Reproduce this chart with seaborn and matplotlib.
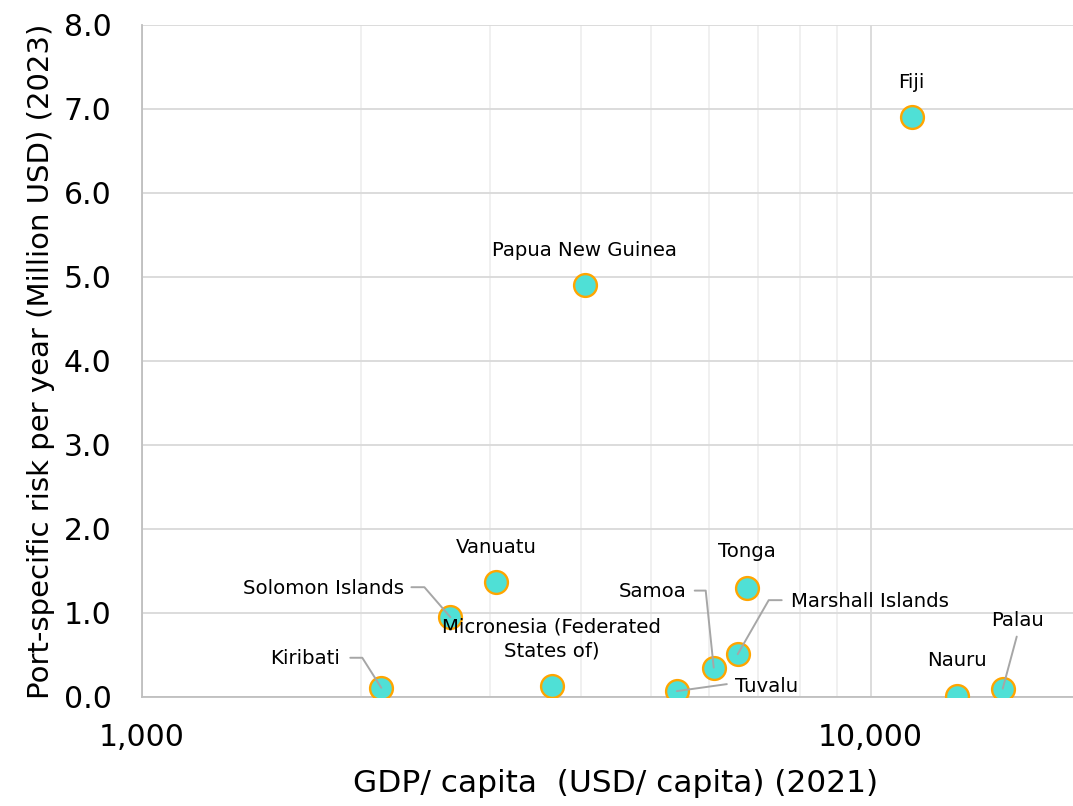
import matplotlib
matplotlib.use("Agg")
import matplotlib.pyplot as plt
from matplotlib.lines import Line2D
from matplotlib.ticker import FixedLocator, FuncFormatter, NullFormatter
import pandas as pd
import seaborn as sns

# Data
countries = ["Fiji", "Papua New Guinea", "Vanuatu", "Solomon Islands", "Kiribati",
             "Micronesia (Federated\nStates of)", "Tuvalu", "Samoa", "Marshall Islands",
             "Tonga", "Nauru", "Palau"]
gdp_per_capita = [11380, 4050, 3060, 2650, 2130, 3650, 5420, 6090, 6570, 6760, 13120, 15180]
port_risk = [6.90, 4.90, 1.37, 0.95, 0.11, 0.13, 0.07, 0.35, 0.51, 1.30, 0.01, 0.10]

df = pd.DataFrame({"country": countries, "gdp": gdp_per_capita, "risk": port_risk})

sns.set_style("white")
plt.rcParams["font.family"] = ["DejaVu Sans"]
plt.rcParams["text.color"] = "black"
plt.rcParams["axes.labelcolor"] = "black"

fig = plt.figure(figsize=(10.73, 8.06), dpi=100)
ax = fig.add_axes([142 / 1073, 109 / 806, (1090 - 142) / 1073, 672 / 806])

ax.set_xscale("log")
ax.set_xlim(1000, 20000)
ax.set_ylim(0, 8)

sns.scatterplot(data=df, x="gdp", y="risk", ax=ax, s=270, color="#4FE0D6",
                edgecolor="#FFA500", linewidth=1.7, zorder=5, legend=False)

# grid
ax.xaxis.set_major_locator(FixedLocator([1000, 10000]))
ax.xaxis.set_minor_locator(FixedLocator([2000, 3000, 4000, 5000, 6000, 7000, 8000, 9000]))
ax.xaxis.set_major_formatter(FuncFormatter(lambda v, p: f"{v:,.0f}"))
ax.xaxis.set_minor_formatter(NullFormatter())
ax.set_yticks([0, 1, 2, 3, 4, 5, 6, 7, 8])
ax.yaxis.set_major_formatter(FuncFormatter(lambda v, p: f"{v:.1f}"))
ax.grid(True, which="major", color="#D9D9D9", linewidth=1.3)
ax.grid(True, which="minor", axis="x", color="#EFEFEF", linewidth=1.3)
ax.set_axisbelow(True)

for s in ["top", "right"]:
    ax.spines[s].set_visible(False)
for s in ["left", "bottom"]:
    ax.spines[s].set_color("#BFBFBF")
    ax.spines[s].set_linewidth(1.3)

ax.tick_params(axis="both", which="both", length=0, labelsize=21.5, colors="black")
ax.tick_params(axis="y", pad=22)
ax.tick_params(axis="x", pad=19)

ax.set_xlabel("GDP/ capita  (USD/ capita) (2021)", fontsize=22.5, labelpad=12)
ax.set_ylabel("Port-specific risk per year (Million USD) (2023)", fontsize=21, labelpad=6)

# label placement: (dx, dy) pixel offsets, alignment, leader path in pixel offsets
labels = {
    "Fiji": ((0, 35), "center", None),
    "Papua New Guinea": ((0, 35), "center", None),
    "Vanuatu": ((0, 34), "center", None),
    "Tonga": ((0, 36), "center", None),
    "Nauru": ((0, 36), "center", None),
    "Micronesia (Federated\nStates of)": ((0, 47), "center", None),
    "Solomon Islands": ((-46, 29), "right", [(-39, 30), (-26, 30), (0, 0)]),
    "Kiribati": ((-41, 29), "right", [(-31, 30), (-19, 30), (0, 0)]),
    "Samoa": ((-27, 76), "right", [(-19, 77), (-8, 77), (0, 0)]),
    "Marshall Islands": ((53, 53), "left", [(44, 54), (31, 54), (0, 0)]),
    "Tuvalu": ((58, 5), "left", [(50, 7), (0, 0)]),
    "Palau": ((15, 68), "center", [(14, 52), (0, 0)]),
}

for name, x, y in zip(countries, gdp_per_capita, port_risk):
    (dx, dy), ha, path = labels[name]
    ax.annotate(name, (x, y), xytext=(dx, dy), textcoords="offset pixels",
                ha=ha, va="center", fontsize=14.2, linespacing=1.3, zorder=6,
                color="black")
    if path:
        px, py = ax.transData.transform((x, y))
        xs = [px + a for a, b in path]
        ys = [py + b for a, b in path]
        fig.add_artist(Line2D(xs, ys, transform=None, color="#A6A6A6",
                              linewidth=1.4, zorder=6))

fig.savefig("out.png", dpi=100)
